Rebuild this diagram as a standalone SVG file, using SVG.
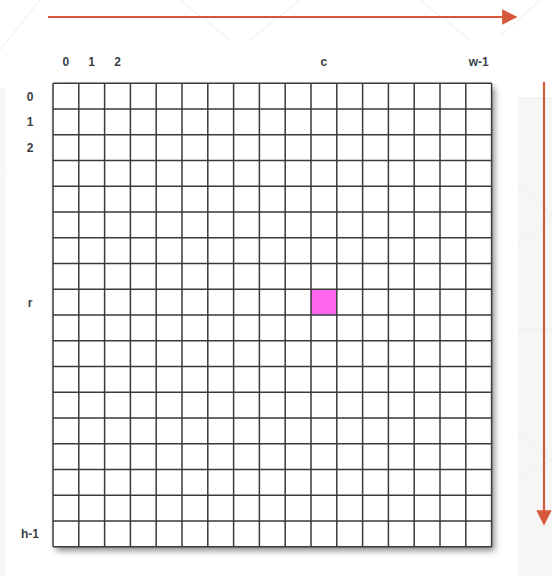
<svg xmlns="http://www.w3.org/2000/svg" width="552" height="576" viewBox="0 0 552 576">
  <defs>
    <style>
      .lbl { font-family: "Liberation Sans", Arial, sans-serif; font-size: 12px; font-weight: bold; fill: #3a3f48; text-anchor: middle; }
      .arrow { stroke: #d6583b; stroke-width: 2.2; fill: none; }
      .bgline { stroke: #ececec; stroke-width: 1; fill: none; }
      .grid { stroke: #3a3a3a; stroke-width: 1.5; fill: none; }
    </style>
    <marker id="ah" viewBox="0 0 10 10" refX="9" refY="5" markerWidth="7" markerHeight="7" markerUnits="strokeWidth" orient="auto">
      <path d="M0,0 L10,5 L0,10 Z" fill="#d6583b"/>
    </marker>
    <filter id="shadow" x="-10%" y="-10%" width="130%" height="130%">
      <feDropShadow dx="3" dy="4" stdDeviation="3" flood-color="#000" flood-opacity="0.45"/>
    </filter>
  </defs>

  <!-- background -->
  <rect x="0" y="0" width="552" height="576" fill="#ffffff"/>
  <rect x="518" y="98" width="34" height="478" fill="#f6f6f6"/>
  <rect x="0" y="88" width="6" height="488" fill="#f7f7f7"/>
  <g class="bgline">
    <line x1="0" y1="50" x2="40" y2="0"/>
    <line x1="180" y1="0" x2="230" y2="40"/>
    <line x1="250" y1="40" x2="300" y2="0"/>
    <line x1="420" y1="0" x2="470" y2="40"/>
    <line x1="500" y1="36" x2="540" y2="0"/>
    <line x1="518" y1="98" x2="552" y2="98"/>
    <line x1="518" y1="185" x2="552" y2="215"/>
    <line x1="518" y1="245" x2="552" y2="215"/>
    <line x1="518" y1="330" x2="552" y2="330"/>
    <line x1="518" y1="435" x2="552" y2="460"/>
    <line x1="518" y1="480" x2="552" y2="460"/>
    <line x1="0" y1="180" x2="6" y2="175"/>
    <line x1="0" y1="255" x2="6" y2="250"/>
  </g>

  <!-- grid node -->
  <g id="grid">
    <rect x="53" y="83.3" width="438.6" height="463.5" fill="#ffffff" filter="url(#shadow)"/>
    <rect x="311" y="289.3" width="25.8" height="25.75" fill="#ff66ee"/>
    <path class="grid" d="
      M53,83.3 V546.8 M78.8,83.3 V546.8 M104.6,83.3 V546.8 M130.4,83.3 V546.8 M156.2,83.3 V546.8
      M182,83.3 V546.8 M207.8,83.3 V546.8 M233.6,83.3 V546.8 M259.4,83.3 V546.8 M285.2,83.3 V546.8
      M311,83.3 V546.8 M336.8,83.3 V546.8 M362.6,83.3 V546.8 M388.4,83.3 V546.8 M414.2,83.3 V546.8
      M440,83.3 V546.8 M465.8,83.3 V546.8 M491.6,83.3 V546.8
      M53,83.3 H491.6 M53,109.05 H491.6 M53,134.8 H491.6 M53,160.55 H491.6 M53,186.3 H491.6
      M53,212.05 H491.6 M53,237.8 H491.6 M53,263.55 H491.6 M53,289.3 H491.6 M53,315.05 H491.6
      M53,340.8 H491.6 M53,366.55 H491.6 M53,392.3 H491.6 M53,418.05 H491.6 M53,443.8 H491.6
      M53,469.55 H491.6 M53,495.3 H491.6 M53,521.05 H491.6 M53,546.8 H491.6"/>
  </g>

  <!-- column labels -->
  <g id="col-labels">
    <text class="lbl" x="65.9" y="66">0</text>
    <text class="lbl" x="91.7" y="66">1</text>
    <text class="lbl" x="117.5" y="66">2</text>
    <text class="lbl" x="323.9" y="66">c</text>
    <text class="lbl" x="478.7" y="66">w-1</text>
  </g>

  <!-- row labels -->
  <g id="row-labels">
    <text class="lbl" x="30" y="100.5">0</text>
    <text class="lbl" x="30" y="126">1</text>
    <text class="lbl" x="30" y="152">2</text>
    <text class="lbl" x="30" y="306.5">r</text>
    <text class="lbl" x="30" y="538">h-1</text>
  </g>

  <!-- connectors -->
  <g id="connectors">
    <line class="arrow" x1="48" y1="17" x2="516" y2="17" marker-end="url(#ah)"/>
    <line class="arrow" x1="544" y1="82" x2="544" y2="524" marker-end="url(#ah)"/>
  </g>
</svg>
